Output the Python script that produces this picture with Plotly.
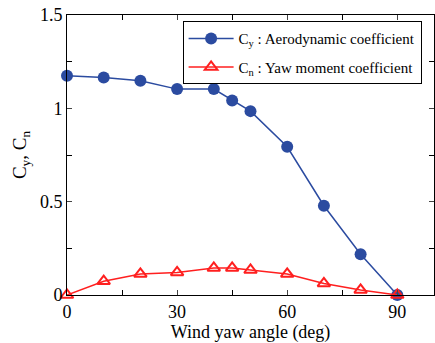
import plotly.graph_objects as go

angle = [0, 10, 20, 30, 40, 45, 50, 60, 70, 80, 90]
cy = [1.175, 1.165, 1.148, 1.103, 1.103, 1.042, 0.985, 0.794, 0.478, 0.218, 0.0]
cn = [0.0, 0.074, 0.113, 0.121, 0.145, 0.145, 0.134, 0.113, 0.062, 0.027, 0.0]

fig = go.Figure()
fig.add_trace(go.Scatter(x=angle, y=cy, mode="lines+markers",
                         name="C<sub>y</sub> : Aerodynamic coefficient", legendgroup="a",
                         line=dict(color="#2b4ba0", width=1.5),
                         marker=dict(symbol="circle", size=12, color="#2b4ba0"),
                         cliponaxis=False))
fig.add_trace(go.Scatter(x=angle, y=cn, mode="lines+markers",
                         name="C<sub>n</sub> : Yaw moment coefficient", legendgroup="b",
                         line=dict(color="#ff1f1f", width=1.5),
                         marker=dict(symbol="triangle-up-open", size=11, color="#ff1f1f",
                                     line=dict(width=2)),
                         cliponaxis=False))

font = "Liberation Serif"
tickfont = dict(family=font, size=18, color="black")
fig.update_layout(
    width=435, height=343,
    margin=dict(l=67, r=1, t=15, b=48, autoexpand=False),
    paper_bgcolor="white", plot_bgcolor="white",
    font=dict(family=font, size=18, color="black"),
    showlegend=True,
    legend=dict(x=0.315, y=0.978, xanchor="left", yanchor="top",
                bordercolor="black", borderwidth=1, bgcolor="white",
                font=dict(family=font, size=15), tracegroupgap=6, itemwidth=45),
    xaxis=dict(range=[0, 100], tickvals=[0, 30, 60, 90], ticks="inside", ticklen=5,
               tickfont=tickfont, automargin=False,
               minor=dict(tickvals=[15, 45, 75], ticks="inside", ticklen=5, tickcolor="black"),
               showline=True, linecolor="black", linewidth=1, mirror="ticks",
               showgrid=False, zeroline=False,
               title=dict(text="Wind yaw angle (deg)", standoff=0,
                          font=dict(family=font, size=18))),
    yaxis=dict(range=[0, 1.5], tickvals=[0, 0.5, 1, 1.5], ticks="inside", ticklen=5,
               tickfont=tickfont, automargin=False,
               minor=dict(tickvals=[0.25, 0.75, 1.25], ticks="inside", ticklen=5, tickcolor="black"),
               showline=True, linecolor="black", linewidth=1, mirror="ticks",
               showgrid=False, zeroline=False,
               title=dict(text="C<sub>y</sub>, C<sub>n</sub>", standoff=8,
                          font=dict(family=font, size=19))),
)
fig.write_html("out.html", config={"displayModeBar": False})

with open("out.html", "r", encoding="utf-8") as f:
    html = f.read()
html = html.replace("<head>", "<head><style>html,body{margin:0;padding:0;overflow:hidden;}</style>", 1)
with open("out.html", "w", encoding="utf-8") as f:
    f.write(html)
